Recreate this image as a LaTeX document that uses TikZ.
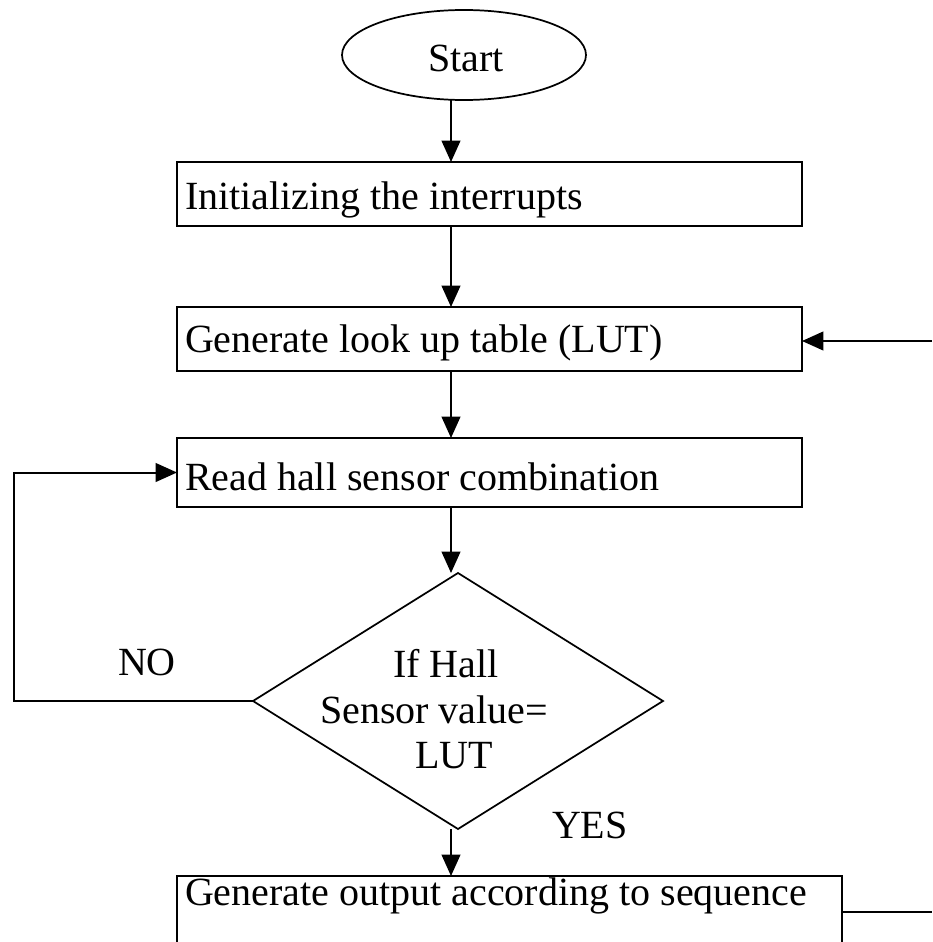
\documentclass[tikz,border=0pt]{standalone}
\usepackage{fontspec}
\setmainfont{Liberation Serif}
\usetikzlibrary{shapes.geometric,arrows.meta}
\begin{document}
\begin{tikzpicture}[x=0.75pt,y=-0.75pt,
  font=\fontsize{30pt}{34pt}\selectfont,
  every node/.style={inner sep=0pt, outer sep=0pt},
  boxnode/.style={draw, line width=1.3pt, rectangle, minimum height=48pt},
  lbl/.style={anchor=base west},
  arr/.style={line width=1.5pt, -{Triangle[length=16pt,width=14pt]}},
  ln/.style={line width=1.5pt}]
\useasboundingbox (0,0) rectangle (932,942);
\clip (0,0) rectangle (932,942);
% nodes
\node[draw, ellipse, line width=1.3pt, minimum width=183pt, minimum height=67.5pt] (start) at (464,55) {};
\node[lbl] (starttxt) at (428,72) {Start};
\node[boxnode, minimum width=468.75pt] (b1) at (489.5,194) {};
\node[lbl] (t1) at (185,209) {Initializing the interrupts};
\node[boxnode, minimum width=468.75pt] (b2) at (489.5,339) {};
\node[lbl] (t2) at (185,352) {Generate look up table (LUT)};
\node[boxnode, minimum width=468.75pt, minimum height=51.75pt] (b3) at (489.5,472.5) {};
\node[lbl] (t3) at (185,490) {Read hall sensor combination};
\node[draw, diamond, line width=1.3pt, minimum width=307.5pt, minimum height=192pt] (d) at (458,701) {};
\node[lbl] (dt1) at (393,677) {If Hall};
\node[lbl] (dt2) at (320,723) {Sensor value=};
\node[lbl] (dt3) at (415,768) {LUT};
\node[draw, line width=1.3pt, rectangle, minimum width=498.75pt, minimum height=90pt] (b4) at (509.5,936) {};
\node[lbl] (t4) at (185,905) {Generate output according to sequence};
\node[lbl] (no) at (118,675) {NO};
\node[lbl] (yes) at (552,838) {YES};
% helper coordinates
\coordinate (ax) at (451,0);
\coordinate (lp) at (14,0);
\coordinate (rin) at (932,341);
\coordinate (rout) at (932,912);
% connectors
\draw[arr] (start.south -| ax) -- (b1.north -| ax);
\draw[arr] (b1.south -| ax) -- (b2.north -| ax);
\draw[arr] (b2.south -| ax) -- (b3.north -| ax);
\draw[arr] (b3.south -| ax) -- (d.north -| ax);
\draw[arr] (d.south -| ax) -- (b4.north -| ax);
\draw[arr] (rin) -- (rin -| b2.east);
\draw[arr] (d.west) -- (d.west -| lp) |- (b3.west);
\draw[ln] (rout -| b4.east) -- (rout);
\end{tikzpicture}
\end{document}
